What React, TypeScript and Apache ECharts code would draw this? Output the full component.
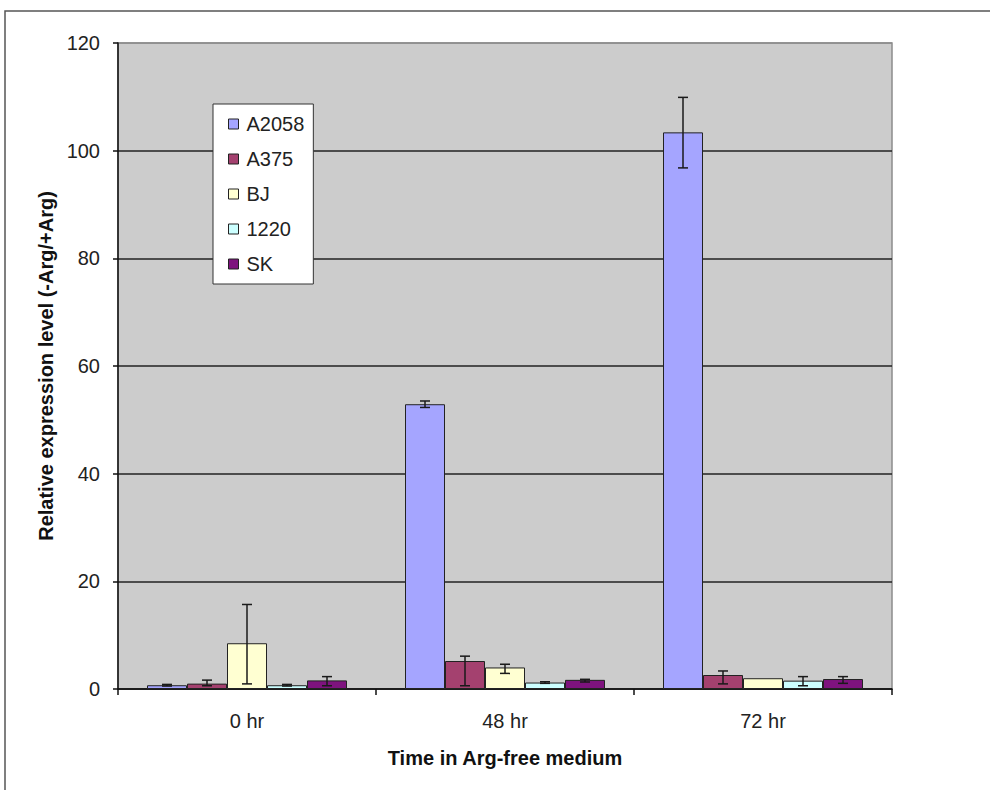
import React, { useEffect, useRef } from "react";
import * as echarts from "echarts";

const categories = ["0 hr", "48 hr", "72 hr"];
const seriesNames = ["A2058", "A375", "BJ", "1220", "SK"];
const seriesColors = ["#A5A5FF", "#A4416F", "#FFFFD2", "#CCFFFF", "#7E137E"];

// bar heights per series (0 hr, 48 hr, 72 hr)
const valuesA2058 = [0.7, 52.9, 103.4];
const valuesA375 = [1.0, 5.2, 2.6];
const valuesBJ = [8.5, 4.0, 2.0];
const values1220 = [0.7, 1.2, 1.55];
const valuesSK = [1.6, 1.7, 1.85];

// error bar lower / upper ends
const errLowA2058 = [0.55, 52.3, 96.8];
const errHighA2058 = [0.85, 53.5, 109.9];
const errLowA375 = [0.6, 0.6, 0.95];
const errHighA375 = [1.65, 6.1, 3.35];
const errLowBJ = [0.95, 2.9, 2.0];
const errHighBJ = [15.7, 4.6, 2.0];
const errLow1220 = [0.55, 1.05, 0.6];
const errHigh1220 = [0.85, 1.35, 2.3];
const errLowSK = [0.6, 1.3, 1.05];
const errHighSK = [2.3, 1.8, 2.3];

const yTicks = { min: 0, max: 120, interval: 20 };

const allValues = [valuesA2058, valuesA375, valuesBJ, values1220, valuesSK];
const allLow = [errLowA2058, errLowA375, errLowBJ, errLow1220, errLowSK];
const allHigh = [errHighA2058, errHighA375, errHighBJ, errHigh1220, errHighSK];

const FONT = "'Liberation Sans', Arial, Helvetica, sans-serif";
const BAR_W = 40;

export default function App() {
  const ref = useRef<HTMLDivElement>(null);
  useEffect(() => {
    document.body.style.margin = "0";
    const chart = echarts.init(ref.current!, null, { renderer: "svg" });

    const barSeries = seriesNames.map((name, i) => ({
      name,
      type: "bar",
      data: allValues[i],
      barWidth: BAR_W,
      barGap: "0%",
      itemStyle: { color: seriesColors[i], borderColor: "#222", borderWidth: 1 },
      z: 2,
    }));

    const errSeries = seriesNames.map((name, i) => ({
      name: "err-" + name,
      type: "custom",
      z: 5,
      silent: true,
      data: categories.map((_, c) => [c, allLow[i][c], allHigh[i][c]]),
      encode: { x: 0, y: [1, 2] },
      renderItem: (params: any, api: any) => {
        const c = api.value(0);
        const lo = api.value(1);
        const hi = api.value(2);
        if (hi - lo < 0.05) return null;
        const pHi = api.coord([c, hi]);
        const pLo = api.coord([c, lo]);
        const x = pHi[0] + (i - 2) * BAR_W;
        const cap = 5;
        const st = { stroke: "#1a1a1a", lineWidth: 1.5 };
        return {
          type: "group",
          children: [
            { type: "line", shape: { x1: x, y1: pHi[1], x2: x, y2: pLo[1] }, style: st },
            { type: "line", shape: { x1: x - cap, y1: pHi[1], x2: x + cap, y2: pHi[1] }, style: st },
            { type: "line", shape: { x1: x - cap, y1: pLo[1], x2: x + cap, y2: pLo[1] }, style: st },
          ],
        };
      },
    }));

    chart.setOption({
      animation: false,
      backgroundColor: "#ffffff",
      textStyle: { fontFamily: FONT },
      graphic: [
        {
          type: "rect",
          shape: { x: 5, y: 11, width: 1100, height: 900 },
          style: { fill: "none", stroke: "#555", lineWidth: 1.5 },
          silent: true,
        },
      ],
      grid: {
        left: 118,
        top: 43,
        right: 98,
        bottom: 101,
        show: true,
        backgroundColor: "#CCCCCC",
        borderColor: "#8c8c8c",
        borderWidth: 1.5,
      },
      legend: {
        data: seriesNames,
        orient: "vertical",
        left: 213,
        top: 104,
        padding: [10, 9, 10, 15],
        itemGap: 15,
        itemWidth: 10,
        itemHeight: 10,
        icon: "rect",
        backgroundColor: "#ffffff",
        borderColor: "#333",
        borderWidth: 1,
        itemStyle: { borderColor: "#222", borderWidth: 1 },
        textStyle: { fontSize: 20, color: "#222", fontFamily: FONT, padding: [0, 0, 0, 3] },
      },
      xAxis: {
        type: "category",
        data: categories,
        name: "Time in Arg-free medium",
        nameLocation: "middle",
        nameGap: 59,
        nameTextStyle: { fontSize: 20, fontWeight: "bold", color: "#111", fontFamily: FONT },
        axisLine: { lineStyle: { color: "#111", width: 1.5 } },
        axisTick: { show: true, length: 6, lineStyle: { color: "#111", width: 1.5 } },
        axisLabel: { fontSize: 20, color: "#222", margin: 22, fontFamily: FONT },
        splitLine: { show: false },
      },
      yAxis: {
        type: "value",
        min: yTicks.min,
        max: yTicks.max,
        interval: yTicks.interval,
        name: "Relative expression level (-Arg/+Arg)",
        nameLocation: "middle",
        nameGap: 61,
        nameRotate: 90,
        nameTextStyle: { fontSize: 20, fontWeight: "bold", color: "#111", fontFamily: FONT },
        axisLine: { show: true, lineStyle: { color: "#111", width: 1.5 } },
        axisTick: { show: true, length: 5, lineStyle: { color: "#111", width: 1.5 } },
        axisLabel: { fontSize: 20, color: "#222", margin: 18, fontFamily: FONT },
        splitLine: {
          show: true,
          lineStyle: {
            color: ["#222", "#222", "#222", "#222", "#222", "#222", "#8c8c8c"],
            width: 1.5,
          },
        },
      },
      series: [...barSeries, ...errSeries],
    });
    return () => chart.dispose();
  }, []);
  return (
    <div
      ref={ref}
      style={{ position: "absolute", left: 0, top: 0, width: 990, height: 790 }}
    />
  );
}
